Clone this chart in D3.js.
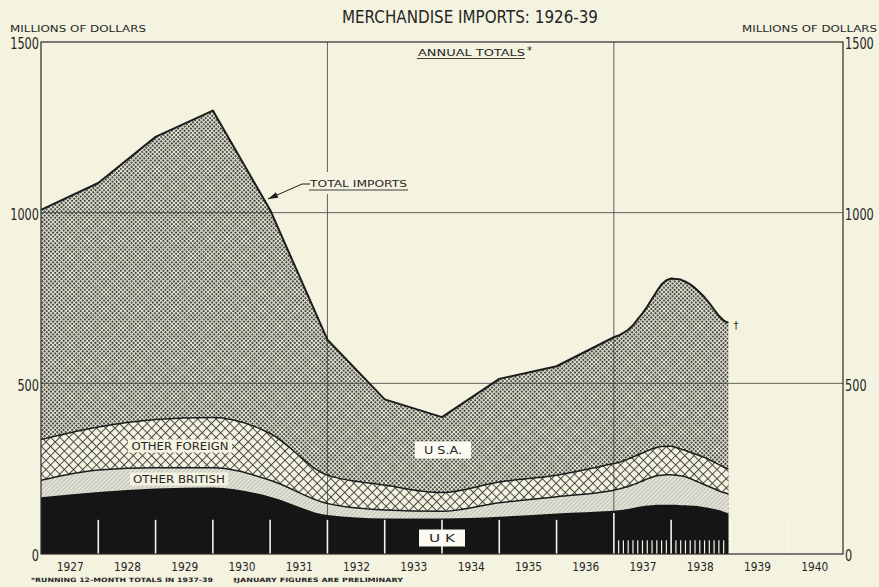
<!DOCTYPE html>
<html>
<head>
<meta charset="utf-8">
<script src="https://cdn.jsdelivr.net/npm/d3@7"></script>
<style>
  body { margin: 0; background: #f3f3df; }
  svg { display: block; }
  text { font-family: "DejaVu Sans", "Liberation Sans", sans-serif; fill: #262626; }
</style>
</head>
<body>
<div id="chart"></div>
<script>
// Annual totals, plotted at the end of each calendar year
var annualYears = [1926, 1927, 1928, 1929, 1930, 1931, 1932, 1933, 1934, 1935, 1936];
var ukAnnual = [166, 182, 192, 195, 168, 114, 104, 104, 109, 119, 127];
var otherBritishAnnual = [50, 64, 61, 58, 48, 34, 25, 21, 41, 49, 60];
var otherForeignAnnual = [119, 126, 141, 147, 137, 83, 73, 55, 61, 63, 78];
var usaAnnual = [673, 715, 828, 899, 655, 397, 251, 221, 302, 319, 370];

// Running 12-month totals, Jan 1937 .. Jan 1939
var runningMonths = 24;
var ukRunning = [128, 130, 132, 135, 138, 140, 142, 143, 144, 144, 144, 144,
                 144, 143, 143, 142, 141, 139, 137, 135, 132, 129, 124, 119];
var otherBritishRunning = [62, 64, 66, 68, 70, 74, 78, 82, 85, 87, 88, 88,
                           87, 86, 83, 79, 74, 70, 66, 62, 59, 56, 56, 57];
var otherForeignRunning = [78, 79, 80, 81, 82, 82, 82, 83, 83, 84, 84, 84,
                           81, 79, 77, 77, 78, 79, 80, 79, 78, 77, 75, 73];
var usaRunning = [372, 375, 379, 386, 398, 409, 423, 440, 458, 475, 486, 491,
                  494, 496, 495, 492, 486, 478, 469, 459, 447, 436, 429, 428];

var yearLabels = [1927, 1928, 1929, 1930, 1931, 1932, 1933, 1934, 1935, 1936, 1937, 1938, 1939, 1940];
var valueTicks = [0, 500, 1000, 1500];
var gridYears = [1932, 1937];

// Build rows
var rows = annualYears.map(function (yr, i) {
  return { t: yr + 1, uk: ukAnnual[i], ob: otherBritishAnnual[i], of: otherForeignAnnual[i], usa: usaAnnual[i] };
});
for (var m = 0; m < runningMonths; m++) {
  rows.push({ t: 1937 + (m + 1) / 12, uk: ukRunning[m], ob: otherBritishRunning[m],
              of: otherForeignRunning[m], usa: usaRunning[m] });
}

var width = 879, height = 587;
var x = d3.scaleLinear().domain([1927, 1941]).range([41, 843]);
var y = d3.scaleLinear().domain([0, 1500]).range([554, 42]);

var svg = d3.select('#chart').append('svg')
            .attr('width', width)
            .attr('height', height);
var bg = '#f3f3df';
svg.append('rect').attr('width', width).attr('height', height).attr('fill', bg);

// Patterns
var defs = svg.append('defs');
var pUsa = defs.append('pattern').attr('id', 'p-usa').attr('patternUnits', 'userSpaceOnUse')
               .attr('width', 3).attr('height', 3).attr('patternTransform', 'rotate(45)');
pUsa.append('rect').attr('width', 3).attr('height', 3).attr('fill', '#e8e8d4');
pUsa.append('rect').attr('width', 1.9).attr('height', 1.9).attr('fill', '#383838');

var pOf = defs.append('pattern').attr('id', 'p-of').attr('patternUnits', 'userSpaceOnUse')
              .attr('width', 6.5).attr('height', 6.5).attr('patternTransform', 'rotate(45)');
pOf.append('rect').attr('width', 6.5).attr('height', 6.5).attr('fill', bg);
pOf.append('path').attr('d', 'M0,0.5H6.5M0.5,0V6.5').attr('stroke', '#3a3a3a').attr('stroke-width', 0.9);

var pOb = defs.append('pattern').attr('id', 'p-ob').attr('patternUnits', 'userSpaceOnUse')
              .attr('width', 3).attr('height', 3).attr('patternTransform', 'rotate(45)');
pOb.append('rect').attr('width', 3).attr('height', 3).attr('fill', '#ecece0');
pOb.append('path').attr('d', 'M1,0V3').attr('stroke', '#9a9a90').attr('stroke-width', 0.8);

defs.append('marker').attr('id', 'arrow').attr('viewBox', '0 0 10 6')
    .attr('refX', 10).attr('refY', 3).attr('markerWidth', 11).attr('markerHeight', 6)
    .attr('markerUnits', 'userSpaceOnUse').attr('orient', 'auto')
    .append('path').attr('d', 'M0,0L10,3L0,6Z').attr('fill', '#1e1e1e');

// Stacked layers
var keys = ['uk', 'ob', 'of', 'usa'];
var fills = { uk: '#151515', ob: 'url(#p-ob)', of: 'url(#p-of)', usa: 'url(#p-usa)' };
var series = d3.stack().keys(keys)(rows);

function layerArea(s) {
  return d3.area()
           .x(function (d) { return x(d.data.t); })
           .y0(y(0))
           .y1(function (d) { return y(d[1]); })
           .curve(s.key === 'usa' ? d3.curveLinear : d3.curveMonotoneX);
}

var plot = svg.append('g').attr('class', 'layers');
series.slice(1).reverse().forEach(function (s) {
  plot.append('path').datum(s).attr('d', layerArea(s)).attr('fill', fills[s.key]);
});

// Grid (under the U.K. band, over the other fills)
var grid = svg.append('g').attr('stroke', '#3c3c3c').attr('stroke-width', 0.8);
[500, 1000].forEach(function (v) {
  grid.append('line').attr('x1', x(1927)).attr('x2', x(1941)).attr('y1', y(v)).attr('y2', y(v));
});
gridYears.forEach(function (yr) {
  grid.append('line').attr('x1', x(yr)).attr('x2', x(yr)).attr('y1', y(1500)).attr('y2', y(0));
});

svg.append('path').datum(series[0]).attr('d', layerArea(series[0])).attr('fill', fills.uk);

// White year ticks inside U.K. band
var ukTicks = svg.append('g').attr('stroke', '#f3f3ea');
d3.range(1928, 1939).forEach(function (yr) {
  var top = yr === 1937 ? 120 : 100;
  ukTicks.append('line').attr('x1', x(yr)).attr('x2', x(yr))
         .attr('y1', y(0)).attr('y2', y(top)).attr('stroke-width', 1.6);
});
d3.range(1, 24).filter(function (k) { return k !== 12; }).forEach(function (k) {
  var t = 1937 + k / 12;
  ukTicks.append('line').attr('x1', x(t)).attr('x2', x(t))
         .attr('y1', y(0)).attr('y2', y(40)).attr('stroke-width', 1.2);
});
[1939, 1940].forEach(function (yr) {
  svg.append('line').attr('x1', x(yr) + 2).attr('x2', x(yr) + 2)
     .attr('y1', y(0)).attr('y2', y(100)).attr('stroke', '#fbfbef').attr('stroke-width', 1.2);
});

// Boundary lines
var lineKeys = ['ob', 'of', 'usa'];
series.filter(function (s) { return lineKeys.indexOf(s.key) >= 0; }).forEach(function (s) {
  var line = d3.line()
               .x(function (d) { return x(d.data.t); })
               .y(function (d) { return y(d[1]); })
               .curve(s.key === 'usa' ? d3.curveLinear : d3.curveMonotoneX);
  svg.append('path').datum(s).attr('d', line).attr('fill', 'none')
     .attr('stroke', '#1c1c1c').attr('stroke-width', s.key === 'usa' ? 2 : 1.5)
     .attr('stroke-linejoin', 'round');
});

// Frame
svg.append('rect').attr('x', x(1927)).attr('y', y(1500))
   .attr('width', x(1941) - x(1927)).attr('height', y(0) - y(1500))
   .attr('fill', 'none').attr('stroke', '#2a2a2a').attr('stroke-width', 1.2);

// Axes
var numberFont = '"Liberation Sans Narrow", "DejaVu Sans Condensed", "DejaVu Sans", sans-serif';
function labelWidth(d) { return String(d).length * 7.2; }
var leftAxis = svg.append('g').attr('transform', 'translate(' + (x(1927) - 2) + ',2)')
                  .call(d3.axisLeft(y).tickValues(valueTicks).tickFormat(d3.format('d'))
                        .tickSize(0).tickPadding(0));
var rightAxis = svg.append('g').attr('transform', 'translate(' + (x(1941) + 2) + ',2)')
                   .call(d3.axisRight(y).tickValues(valueTicks).tickFormat(d3.format('d'))
                         .tickSize(0).tickPadding(0));
[leftAxis, rightAxis].forEach(function (a) {
  a.select('.domain').remove();
  a.selectAll('text').attr('font-size', 15).attr('fill', '#262626')
   .attr('font-family', numberFont)
   .attr('textLength', labelWidth)
   .attr('lengthAdjust', 'spacingAndGlyphs');
});
// right-hand labels: anchor at their right end so they stay inside the page
rightAxis.selectAll('text').attr('text-anchor', 'end').attr('x', labelWidth);

var bottomAxis = svg.append('g').attr('transform', 'translate(0,' + y(0) + ')')
                    .call(d3.axisBottom(x).tickValues(yearLabels.map(function (d) { return d + 0.5; }))
                          .tickFormat(function (d) { return Math.floor(d); })
                          .tickSize(0).tickPadding(9));
bottomAxis.select('.domain').remove();
bottomAxis.selectAll('text').attr('font-size', 11.5).attr('fill', '#262626')
          .attr('textLength', 27).attr('lengthAdjust', 'spacingAndGlyphs');

// Titles
svg.append('text').attr('x', 470).attr('y', 23).attr('text-anchor', 'middle')
   .attr('font-size', 17).attr('textLength', 256).attr('lengthAdjust', 'spacingAndGlyphs')
   .text('MERCHANDISE IMPORTS: 1926-39');
svg.append('text').attr('x', 10).attr('y', 32).attr('font-size', 9)
   .attr('textLength', 136).attr('lengthAdjust', 'spacingAndGlyphs').text('MILLIONS OF DOLLARS');
svg.append('text').attr('x', 877).attr('y', 32).attr('font-size', 9).attr('text-anchor', 'end')
   .attr('textLength', 135).attr('lengthAdjust', 'spacingAndGlyphs').text('MILLIONS OF DOLLARS');

svg.append('text').attr('x', 418).attr('y', 56).attr('font-size', 9.5)
   .attr('textLength', 107).attr('lengthAdjust', 'spacingAndGlyphs').text('ANNUAL TOTALS');
svg.append('text').attr('x', 527).attr('y', 54).attr('font-size', 10).text('*');
svg.append('line').attr('x1', 417).attr('x2', 525).attr('y1', 58.5).attr('y2', 58.5)
   .attr('stroke', '#2a2a2a').attr('stroke-width', 0.9);

// Total imports callout
svg.append('rect').attr('x', 306).attr('y', 172).attr('width', 104).attr('height', 22).attr('fill', bg);
svg.append('text').attr('x', 310).attr('y', 187).attr('font-size', 9.5)
   .attr('textLength', 97).attr('lengthAdjust', 'spacingAndGlyphs').text('TOTAL IMPORTS');
svg.append('line').attr('x1', 309).attr('x2', 408).attr('y1', 190).attr('y2', 190)
   .attr('stroke', '#2a2a2a').attr('stroke-width', 0.9);
svg.append('path').attr('d', 'M310,184L302,184L268,199').attr('fill', 'none')
   .attr('stroke', '#1e1e1e').attr('stroke-width', 1).attr('marker-end', 'url(#arrow)');

// Dagger at last running total
var last = rows[rows.length - 1];
svg.append('text').attr('x', x(last.t) + 5).attr('y', y(last.uk + last.ob + last.of + last.usa) + 6)
   .attr('font-size', 10).attr('fill', '#262626').text('\u2020');

// Series labels
function boxLabel(label, cx, cy, w, h, fill, tw) {
  svg.append('rect').attr('x', cx - w / 2).attr('y', cy - h / 2).attr('width', w).attr('height', h)
     .attr('fill', fill);
  svg.append('text').attr('x', cx).attr('y', cy + 4).attr('text-anchor', 'middle')
     .attr('font-size', 10).attr('textLength', tw).attr('lengthAdjust', 'spacingAndGlyphs')
     .text(label);
}
boxLabel('U S.A.', 443, 450, 56, 17, '#fbfbf3', 38);
boxLabel('U  K', 442, 538, 46, 17, '#fbfbf3', 26);
boxLabel('OTHER FOREIGN', 180, 446, 104, 13, bg, 97);
boxLabel('OTHER BRITISH', 179, 479, 98, 13, bg, 92);

// Footnotes
svg.append('text').attr('x', 31).attr('y', 582).attr('font-size', 6).attr('font-weight', 'bold')
   .attr('textLength', 182).attr('lengthAdjust', 'spacingAndGlyphs')
   .text('*RUNNING 12-MONTH TOTALS IN 1937-39');
svg.append('text').attr('x', 233).attr('y', 582).attr('font-size', 6).attr('font-weight', 'bold')
   .attr('textLength', 170).attr('lengthAdjust', 'spacingAndGlyphs')
   .text('\u2020JANUARY FIGURES ARE PRELIMINARY');
</script>
</body>
</html>
